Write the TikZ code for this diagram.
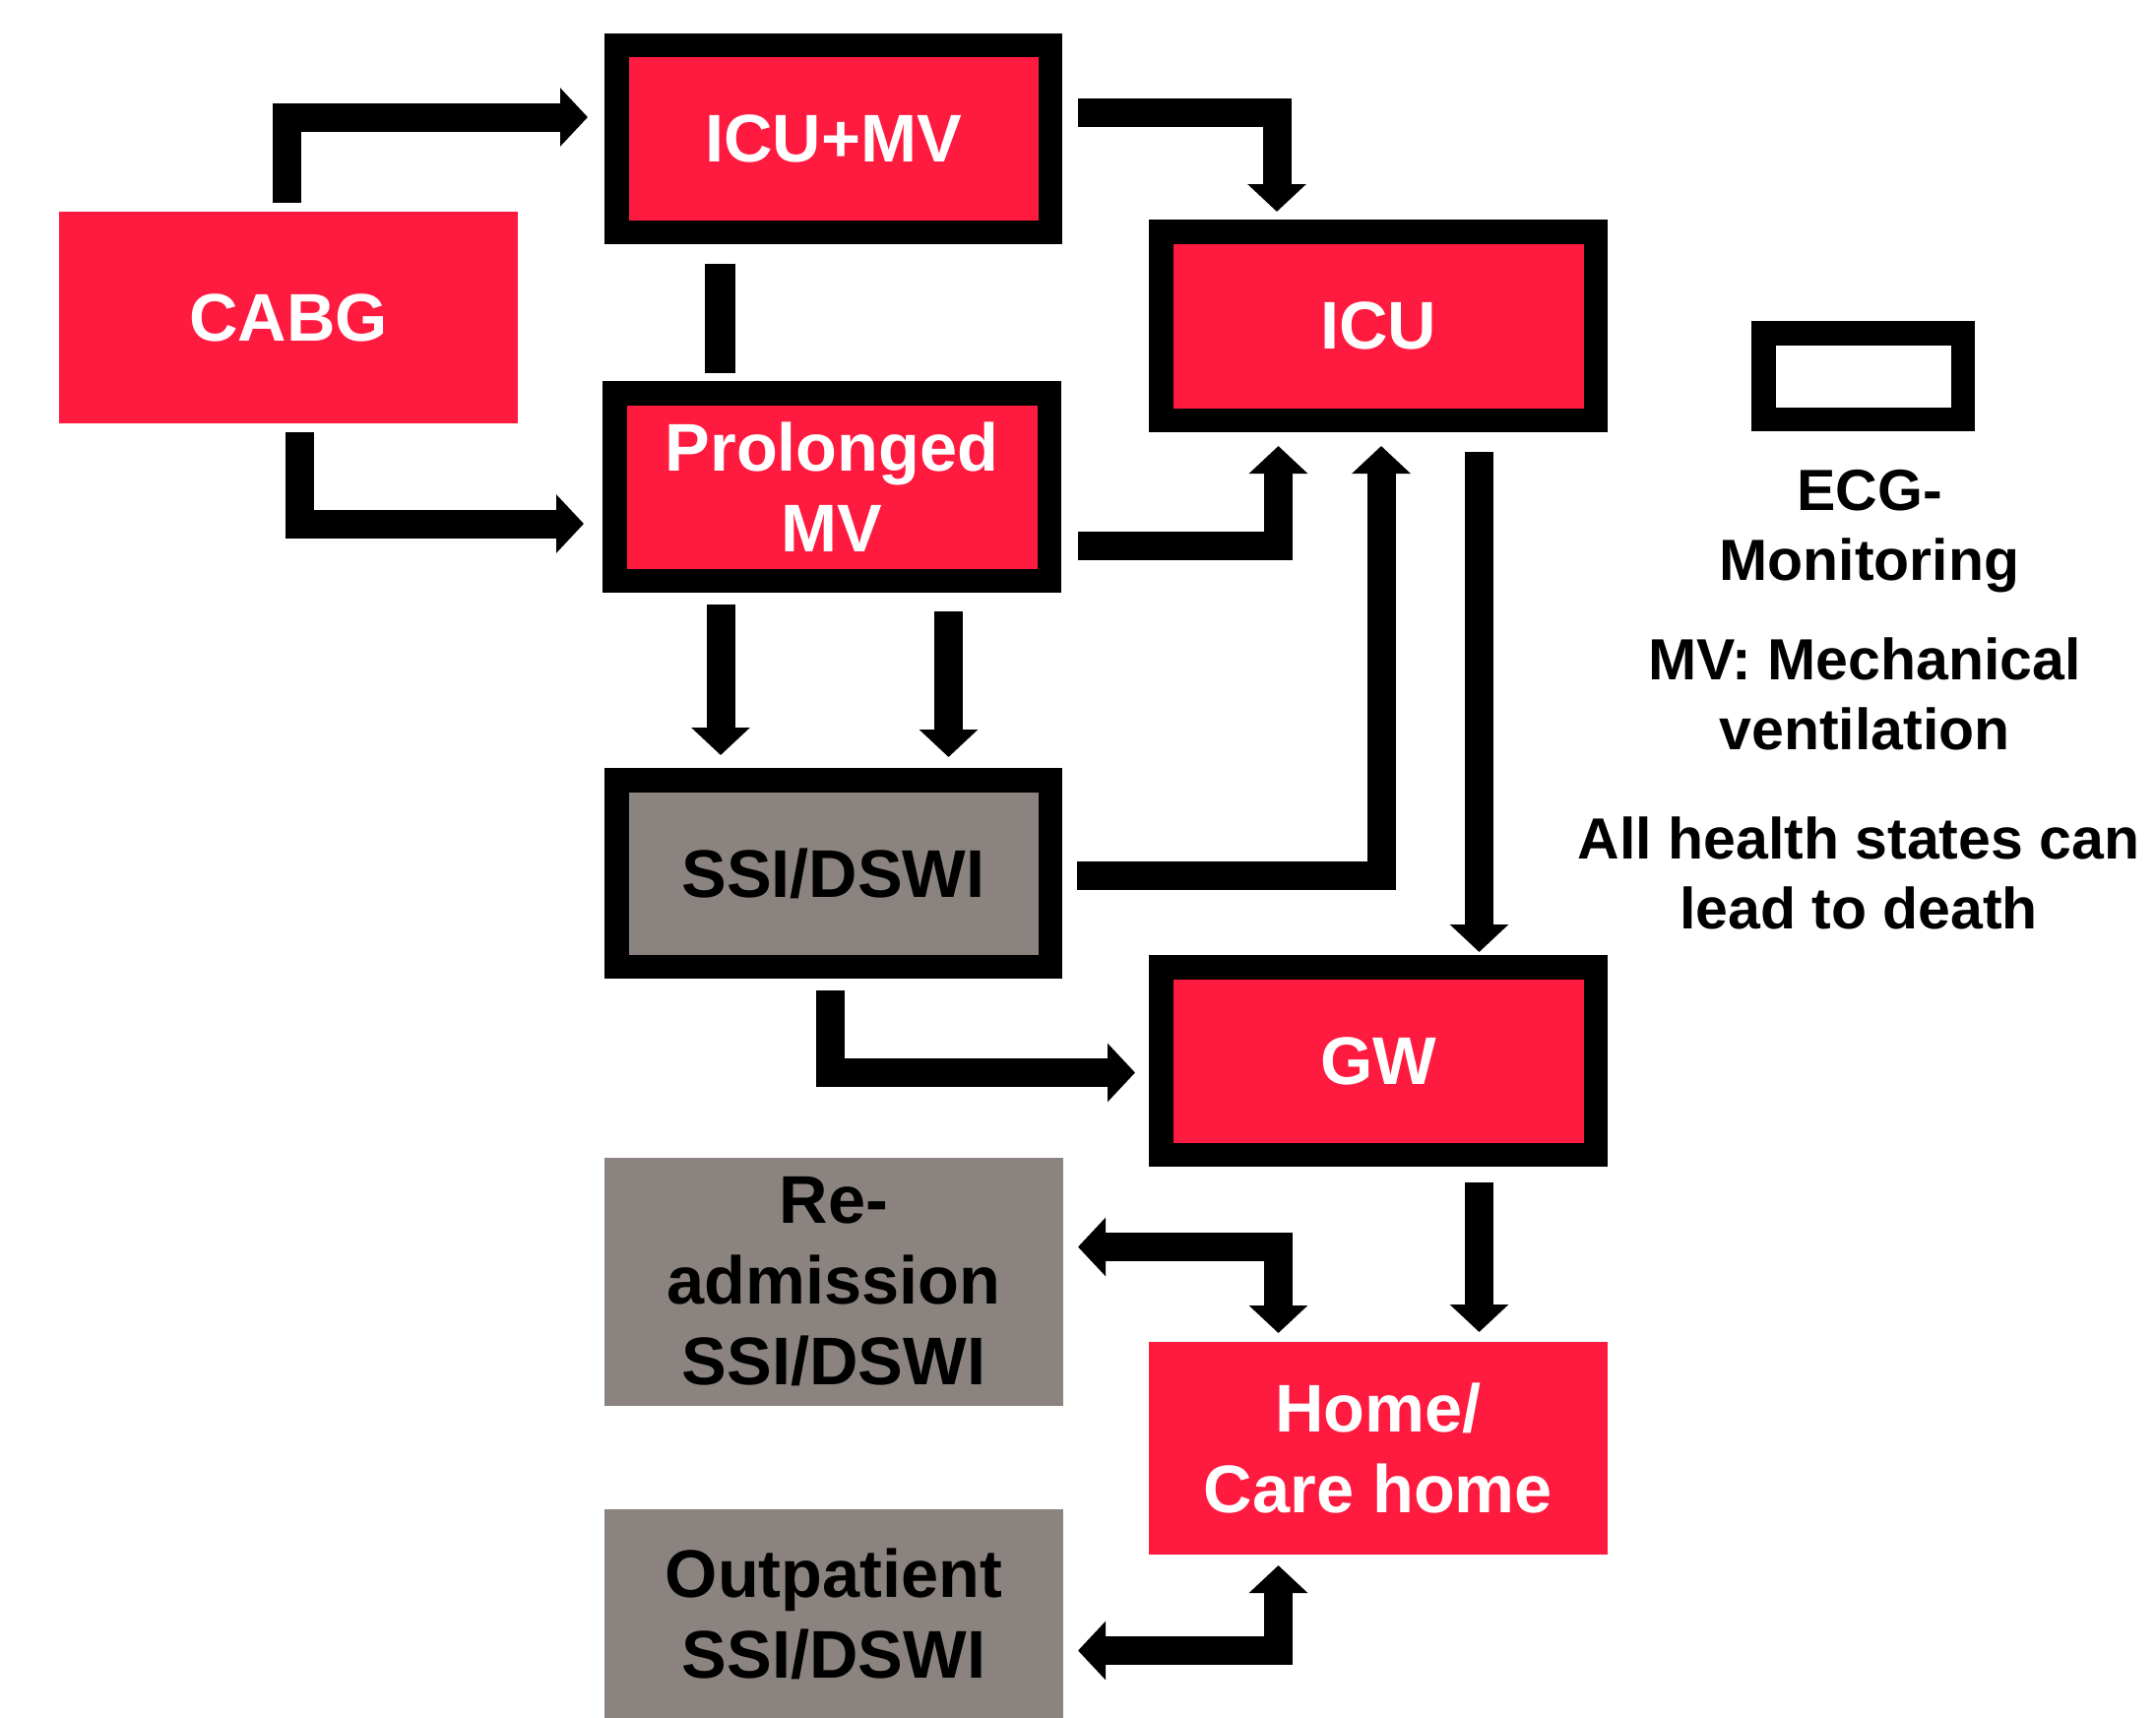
\documentclass[tikz,border=0pt]{standalone}
\usepackage{fontspec}
\setmainfont{Liberation Sans}
\usetikzlibrary{arrows.meta,calc}
\definecolor{boxred}{RGB}{255,26,64}
\definecolor{boxgray}{RGB}{138,131,127}
\begin{document}
\begin{tikzpicture}[x=1pt,y=-1pt,
 bigtext/.style={font=\fontsize{68.5}{82}\selectfont\bfseries, align=center},
 legendtext/.style={font=\fontsize{59}{71}\selectfont\bfseries, align=center, inner sep=0pt},
 framed/.style={draw=black, line width=24.5pt, outer sep=12.25pt, inner sep=0pt},
 plain/.style={draw=none, outer sep=0pt, inner sep=0pt},
 redfill/.style={fill=boxred, text=white},
 grayfill/.style={fill=boxgray, text=black},
 arr/.style={line width=29pt, -{Triangle[width=58pt,length=28pt]}},
 biarr/.style={line width=29pt, {Triangle[width=58pt,length=28pt]}-{Triangle[width=58pt,length=28pt]}}
]
\useasboundingbox (0,0) rectangle (2190,1745);

% boxes
\node[plain,redfill,bigtext,minimum width=466pt,minimum height=215pt] (CABG) at (293,322.5) {CABG};
\node[framed,redfill,bigtext,minimum width=440.5pt,minimum height=189.5pt] (ICUMV) at (846.5,141) {ICU+MV};
\node[framed,redfill,bigtext,minimum width=441.5pt,minimum height=190.5pt] (Prol) at (845,494.5) {Prolonged\\MV};
\node[framed,redfill,bigtext,minimum width=441.5pt,minimum height=191.5pt] (ICU) at (1400,331) {ICU};
\node[framed,grayfill,bigtext,minimum width=440.5pt,minimum height=189.5pt] (SSI) at (846.5,887) {SSI/DSWI};
\node[framed,redfill,bigtext,minimum width=441.5pt,minimum height=190.5pt] (GW) at (1400,1077.5) {GW};
\node[plain,grayfill,bigtext,minimum width=466pt,minimum height=252pt] (Readm) at (847,1302) {Re-\\admission\\SSI/DSWI};
\node[plain,grayfill,bigtext,minimum width=466pt,minimum height=212pt] (Outp) at (847,1639) {Outpatient\\SSI/DSWI};
\node[plain,redfill,bigtext,minimum width=466pt,minimum height=216pt] (Home) at (1400,1471) {Home/\\Care home};

% legend
\node[framed,fill=white,minimum width=202.5pt,minimum height=87.5pt] (Leg) at (1892.5,382) {};
\node[legendtext] (LegA) at (1899,540) {ECG-\\Monitoring};
\node[legendtext] (LegB) at (1894,705) {MV: Mechanical\\ventilation};
\node[legendtext] (LegC) at (1888,887) {All health states can\\lead to death};

% connectors
\draw[arr] ($(CABG.north)+(-1.5,-9.5)$) |- ($(ICUMV.west)+(-17,-22)$);
\draw[arr] ($(CABG.south)+(11.5,9)$) |- ($(Prol.west)+(-19,37.5)$);
\coordinate (lnA) at ($(ICUMV.south)+(-115,20)$);
\coordinate (lnB) at ($(Prol.north)+(-113.5,-8)$);
\draw[line width=31pt] (lnA) -- (lnA |- lnB);
\draw[arr] ($(ICUMV.east)+(16,-27)$) -| ($(ICU.north)+(-103,-8)$);
\draw[arr] ($(Prol.east)+(17,60)$) -| ($(ICU.south)+(-101.5,14)$);
\draw[arr] ($(SSI.east)+(15,2.5)$) -| ($(ICU.south)+(3,14)$);
\draw[arr] ($(ICU.south)+(102.5,20)$) -- ($(GW.north)+(102.5,-3)$);
\coordinate (p1) at ($(Prol.south)+(-113,12)$);
\coordinate (s1) at ($(SSI.north)+(-114.5,-13)$);
\draw[arr] (p1) -- (p1 |- s1);
\coordinate (p2) at ($(Prol.south)+(118.5,19)$);
\coordinate (s2) at ($(SSI.north)+(117,-11)$);
\draw[arr] (p2) -- (p2 |- s2);
\draw[arr] ($(SSI.south)+(-3,12)$) |- ($(GW.west)+(-14,12)$);
\draw[arr] ($(GW.south)+(102.5,16)$) -- ($(Home.north)+(102.5,-10)$);
\draw[biarr] ($(Readm.east)+(15,-35.5)$) -| ($(Home.north)+(-101.5,-9)$);
\draw[biarr] ($(Outp.east)+(15,37.5)$) -| ($(Home.south)+(-101.5,11)$);
\end{tikzpicture}
\end{document}
